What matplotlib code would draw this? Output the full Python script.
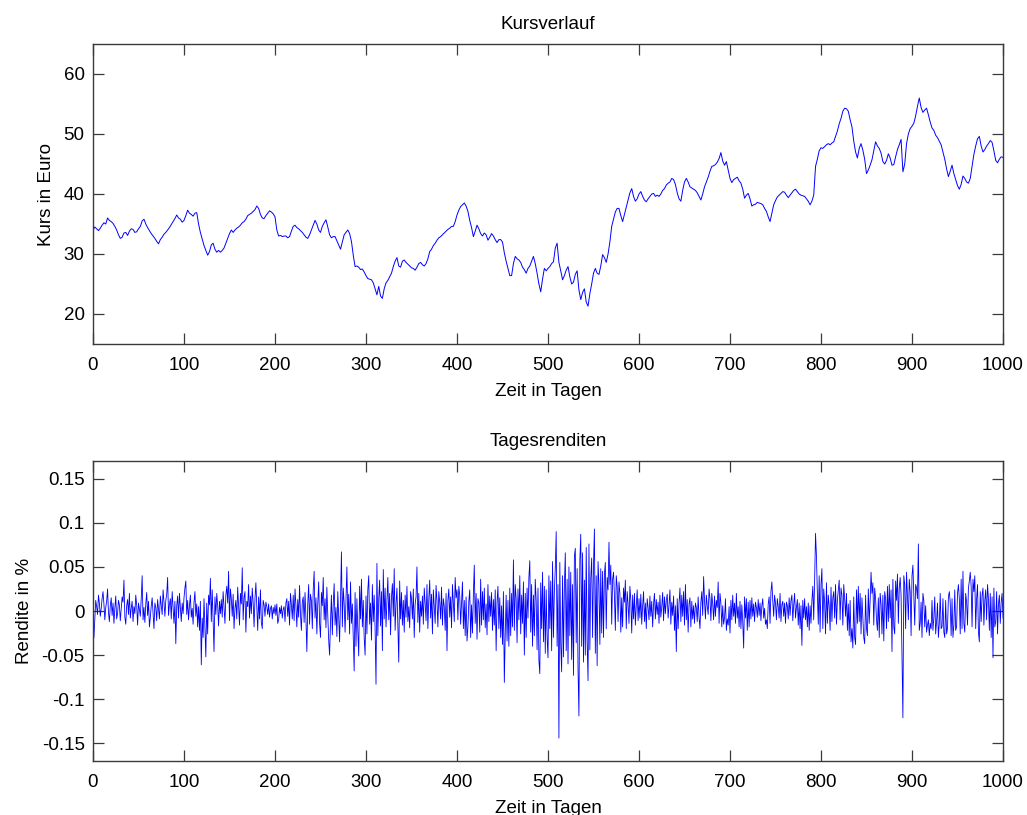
import numpy as np
import matplotlib
matplotlib.use("Agg")
import matplotlib.pyplot as plt
from matplotlib.ticker import FuncFormatter

plt.rcParams["font.family"] = ["Liberation Sans", "DejaVu Sans"]
plt.rcParams["axes.unicode_minus"] = False

# Schlusskurse in Euro, alle 2 Handelstage (Tag 0 ... 1000)
kurs = [
    34.0, 34.5, 34.2, 33.9, 34.3, 34.8, 35.2, 35.0, 36.0, 35.6, 35.4, 35.1, 34.6, 34.0, 33.2, 32.6, 32.8, 33.5, 33.6, 33.1,
    33.8, 34.2, 34.1, 33.6, 33.7, 34.2, 34.6, 35.5, 35.8, 35.0, 34.4, 33.9, 33.4, 33.0, 32.6, 32.1, 31.7, 32.4, 32.8, 33.3,
    33.6, 34.0, 34.4, 34.9, 35.4, 35.9, 36.5, 36.0, 35.8, 35.3, 35.6, 36.4, 37.3, 36.8, 36.6, 36.3, 36.8, 36.9, 35.0, 33.6,
    32.5, 31.4, 30.6, 29.8, 30.4, 31.5, 31.8, 30.8, 30.3, 30.6, 30.3, 30.6, 31.0, 31.8, 32.6, 33.4, 34.0, 33.6, 34.0, 34.3,
    34.5, 34.8, 35.2, 35.4, 35.8, 36.4, 36.6, 36.8, 37.1, 37.4, 38.0, 37.6, 36.6, 36.0, 35.9, 36.4, 36.8, 37.2, 37.0, 36.7,
    36.2, 34.0, 33.0, 33.1, 32.9, 33.0, 33.0, 32.7, 32.9, 33.8, 34.6, 34.8, 34.4, 34.2, 33.9, 33.6, 33.2, 32.8, 32.6, 33.2,
    34.0, 34.8, 35.6, 35.0, 34.0, 33.6, 34.6, 35.2, 35.7, 34.5, 33.2, 32.7, 32.9, 32.9, 32.2, 31.5, 30.8, 32.0, 33.2, 33.6,
    34.0, 33.4, 32.1, 29.8, 27.9, 28.0, 27.8, 27.4, 27.5, 27.0, 26.4, 25.9, 25.8, 25.7, 25.2, 24.2, 23.2, 24.6, 23.0, 22.6,
    24.2, 25.2, 25.6, 26.2, 26.8, 27.9, 28.8, 29.4, 28.0, 27.8, 28.8, 29.0, 28.6, 28.3, 28.0, 27.7, 27.6, 27.3, 27.8, 28.4,
    28.6, 28.2, 28.0, 28.4, 29.2, 30.4, 30.8, 31.4, 31.8, 32.3, 32.7, 32.9, 33.2, 33.5, 33.8, 34.1, 34.3, 34.6, 34.6, 35.4,
    36.5, 37.3, 37.9, 38.2, 38.5, 38.0, 37.1, 35.6, 34.4, 32.9, 33.8, 34.8, 34.2, 33.4, 33.0, 33.5, 33.2, 32.3, 32.8, 33.4,
    33.0, 32.4, 31.9, 32.4, 32.4, 32.0, 30.2, 28.8, 27.6, 26.4, 26.4, 28.4, 29.6, 29.2, 29.0, 28.6, 27.8, 27.4, 26.8, 27.6,
    28.0, 28.8, 29.6, 28.4, 26.8, 25.0, 23.7, 25.8, 27.6, 27.2, 27.6, 27.9, 28.4, 28.7, 31.0, 31.8, 28.6, 27.2, 25.7, 26.4,
    27.3, 27.9, 26.2, 25.0, 25.3, 26.6, 27.2, 24.0, 22.4, 23.6, 24.2, 22.0, 21.3, 23.4, 25.0, 26.8, 27.6, 26.8, 26.6, 28.0,
    29.9, 29.4, 28.6, 30.0, 32.0, 34.6, 35.8, 37.0, 37.6, 37.6, 36.4, 35.4, 36.6, 37.8, 39.0, 40.2, 40.9, 39.6, 38.8, 39.2,
    40.0, 40.4, 39.6, 39.0, 38.7, 39.2, 39.6, 40.0, 40.1, 39.6, 39.8, 39.6, 40.0, 40.6, 40.9, 41.5, 41.8, 42.0, 42.6, 42.4,
    41.6, 40.2, 39.2, 38.8, 40.6, 42.0, 42.6, 42.0, 41.2, 41.0, 40.8, 40.6, 40.2, 39.6, 39.0, 40.0, 41.2, 42.0, 42.8, 43.8,
    44.6, 44.7, 44.9, 45.3, 45.9, 46.9, 45.5, 44.8, 45.4, 44.0, 42.6, 41.9, 42.4, 42.6, 42.8, 42.2, 41.8, 40.8, 39.3, 39.8,
    40.1, 39.2, 38.0, 38.2, 38.3, 38.6, 38.5, 38.4, 38.2, 37.6, 37.1, 36.2, 35.4, 36.8, 38.2, 38.9, 39.5, 39.8, 40.1, 40.4,
    40.3, 39.8, 39.4, 39.8, 40.2, 40.6, 40.8, 40.4, 40.0, 39.8, 39.7, 39.6, 39.2, 38.8, 38.2, 38.8, 39.8, 44.6, 45.8, 47.2,
    47.7, 47.6, 47.9, 48.2, 48.4, 48.2, 48.5, 48.7, 49.6, 50.5, 51.7, 52.6, 53.8, 54.3, 54.2, 53.8, 52.4, 51.2, 48.8, 47.0,
    46.0, 47.6, 48.4, 47.3, 45.8, 43.4, 44.0, 44.8, 45.7, 47.2, 48.7, 48.0, 47.6, 46.8, 45.4, 45.0, 45.6, 46.7, 46.0, 44.8,
    44.9, 46.2, 47.4, 48.2, 49.1, 43.7, 45.0, 48.4, 50.0, 50.9, 51.3, 51.8, 53.0, 54.6, 56.0, 54.4, 53.6, 54.0, 54.3, 53.2,
    52.0, 51.0, 50.6, 49.8, 49.4, 48.8, 48.2, 47.0, 45.8, 44.2, 42.9, 43.8, 44.8, 43.4, 42.4, 41.4, 40.8, 41.6, 43.0, 42.6,
    42.0, 41.8, 42.6, 44.6, 46.6, 48.0, 49.2, 49.6, 48.0, 47.0, 47.4, 48.0, 48.4, 48.9, 48.6, 47.2, 45.6, 45.2, 45.8, 46.2,
    46.1,
]
kurs_schritt = 2

# Tagesrenditen in Promille, Tag 1 ... 1000
rendite_promille = [
    -30, -8, 12, 5, -4, 18, 9, -6, 3, 14, 22, 8, -10, 4, 11, 25, -2, -12, 6, 15,
    -5, 9, -14, 3, 17, -9, -3, 12, 7, -11, 2, 16, 10, 35, -7, -15, 6, 13, -4, 20,
    -8, 3, 11, -12, 5, -3, 18, 7, -16, 9, 2, -6, 14, 40, -10, 4, -13, 8, 21, -5,
    11, -18, -7, 6, 15, -3, -20, 9, 4, -11, 13, 2, -9, 17, 6, -4, 24, 10, -6, 12,
    19, 38, -5, 8, 14, -9, 22, 3, -14, 11, -37, 6, 17, -8, 20, 4, -12, 9, -3, 15,
    26, 34, -4, 12, -10, 6, 18, -7, 3, -15, 10, 22, -6, 8, -18, 5, -22, 11, -61, -8,
    -30, 14, -20, -52, 9, -26, 18, 7, 37, -12, 24, -9, -46, 16, -4, 20, 6, -17, 11, -3,
    13, -7, 22, 4, -14, 18, 28, 9, 45, -11, 25, 14, -6, 19, -20, 3, 12, -9, 27, 6,
    -16, 20, 8, 49, -10, 15, 22, -24, 11, 5, 30, -8, 17, -3, 26, 9, -18, 14, 32, 4,
    -22, 16, -9, 24, -13, -20, 12, 7, -6, 10, 5, -4, 8, -7, 3, 6, -9, 4, -3, 7,
    -5, 8, -14, -10, 4, -3, 6, -8, 2, 5, -12, 9, 14, -6, 11, -16, 20, 7, -9, 18,
    -11, 25, 6, -18, 13, -7, 29, -4, -22, 10, 16, -13, 21, -9, -46, 8, 30, -15, 19, 12,
    -20, 24, 45, -8, 15, -26, 9, 33, -14, -30, 21, 6, 38, -10, 14, -19, 27, -5, -33, -50,
    -12, 18, -27, 8, 31, -16, 4, -29, 22, -8, -35, 12, 67, -18, 26, 9, -24, 15, 50, -10,
    19, -26, 33, -14, 8, -32, -68, 21, -40, 14, -22, -51, 28, -9, 36, -18, 12, -30, -50, 17,
    -26, 24, 40, -15, 9, -33, 30, -12, 18, -20, -83, 54, -28, 14, 35, -17, 22, -45, 47, -9,
    26, -18, 12, 38, -10, 20, -27, 16, 31, -6, 48, -22, 9, 26, -14, -58, 34, -9, 21, -16,
    12, -24, 18, -7, 28, -12, 5, -19, 22, 14, -9, 25, -30, 8, 16, 50, -13, 20, -24, 11,
    -6, 17, -15, 26, 9, -11, 30, -20, 13, 35, -8, 19, -26, 24, 6, -14, 29, 11, -18, 22,
    10, -9, 27, -16, 14, 5, -22, 20, -45, 12, 25, -7, 16, -19, 30, 8, -12, 38, 15, 24,
    -10, 28, 18, -15, 9, 33, -20, 12, -28, 16, -34, -18, 11, 24, -30, 7, -25, 19, 52, -14,
    20, -32, 14, 9, -24, 36, -16, 22, -10, 26, -19, 8, -27, 30, -12, 17, -6, 21, -22, 13,
    -16, 24, -45, 10, 28, -20, 15, -30, 6, -38, 22, -81, -26, 18, -34, 12, -40, 26, -28, 20,
    -18, 58, -22, 30, 14, -36, 25, -10, 40, -26, 18, -14, 33, -50, 20, -30, 26, -8, 38, 57,
    -24, 30, -40, 18, -28, 36, 12, -44, 26, -56, -71, 32, -20, 44, -35, 28, -48, 24, -30, -53,
    40, -20, 34, -45, 56, -30, 22, 48, 90, -40, 30, -144, 55, -38, -69, 40, -52, 28, 66, -45,
    36, -60, 50, -28, 44, -55, 30, -73, 62, 71, -36, 48, -66, -119, 58, 87, -40, 66, -58, 35,
    -50, 72, -35, -79, 76, -44, 38, 60, -30, 52, 93, -48, 40, -62, 56, 30, -38, 48, -25, 45,
    -30, 42, 55, -20, 38, 24, 78, 30, 52, -15, 36, 44, 18, -22, 40, 28, -12, 33, 20, -24,
    15, -18, 26, 10, 35, -20, 22, 8, -14, 28, 12, -25, 18, -9, 20, -16, 6, 24, -11, 14,
    -8, 19, -15, 6, 22, -12, 9, -20, 14, 4, -10, 17, -6, 11, -18, 8, 20, -9, 13, -4,
    10, -14, 18, -7, 5, 21, -11, 16, -3, 12, 19, -8, 7, 24, -15, 10, -5, 17, -22, 6,
    -46, 14, -20, 9, 26, -12, 18, -6, 22, -16, 30, -10, 13, -24, 8, 15, -18, 11, -9, 6,
    -14, 9, 4, -12, 16, -7, -20, 10, 22, -5, 39, 12, -9, 18, 6, -4, 25, 14, -11, 20,
    8, -10, 17, -6, 12, 4, 33, -14, 20, 9, -18, 6, -15, -8, 14, -22, -9, -16, 5, -25,
    12, -10, 18, -6, 9, -14, 20, -8, 5, -18, 11, -20, 7, -12, -42, 16, -8, 14, -22, 10,
    -18, 12, -9, 15, -6, 8, -12, 10, 4, -7, 13, -5, 9, -11, 6, 14, -8, 3, -15, -10,
    -20, 8, 16, -14, 22, 33, 12, -6, 18, 9, -10, 14, 5, -8, 20, -12, 7, 11, -6, 9,
    -14, 10, 6, -9, 15, -5, 12, 18, -11, 7, 20, -8, 4, 13, -16, 9, -20, 6, -39, 12,
    -8, 14, -10, 5, -18, 9, -22, 6, -14, 12, 28, -10, 35, 88, 62, 20, -15, 40, -24, 30,
    48, -20, 25, 10, -26, 32, -14, 18, 6, -22, 27, -12, 15, 22, -8, 30, -15, 12, 24, 35,
    -10, 26, 18, -16, 30, 14, -6, 20, -22, 8, -28, 12, -35, -20, -42, 16, -30, -38, 24, -14,
    28, -12, 20, -26, 15, -8, -30, -37, 18, -20, -28, 25, -14, 12, 44, 20, 32, -16, 26, 14,
    -10, -22, 15, -30, 20, 8, -26, 18, -34, 22, 14, -20, 28, -12, 30, -8, 24, -46, 36, -18,
    -26, 34, 12, 42, -14, 26, 38, 18, -55, -121, 40, 30, -20, 44, 16, -10, 36, 22, -28, 40,
    52, 18, -16, 30, 26, 14, 76, -22, -14, 10, -30, 20, 12, -18, 6, -24, -16, -10, -28, -14,
    -20, 12, -22, -8, 16, -26, -12, 9, -30, -14, 20, -20, -18, 14, -24, -30, 12, -26, -20, 16,
    22, 10, -28, 14, -30, -16, 24, -22, -18, 20, 30, 14, -26, 36, -20, 45, -14, -24, 20, 10,
    -16, 26, 34, 44, 28, -18, 36, 22, 40, -20, 14, 30, -24, -35, 22, -12, 18, 26, -16, 12,
    24, -10, 30, 14, -22, 20, -30, 16, -53, 26, -18, -12, 22, -26, 8, 18, -14, 10, 20, -8,
]

kurs_ticks = [20, 30, 40, 50, 60]
rendite_ticks = [-0.15, -0.1, -0.05, 0, 0.05, 0.1, 0.15]
tage_ticks = list(range(0, 1001, 100))

tage_kurs = np.arange(len(kurs)) * kurs_schritt
rendite = np.array(rendite_promille) / 1000.0
tage_rendite = np.arange(1, len(rendite) + 1)

W, H = 1027, 815
fig = plt.figure(figsize=(W / 100, H / 100), dpi=100)
ax1 = fig.add_axes([93 / W, 1 - 344 / H, 910 / W, 300 / H])
ax2 = fig.add_axes([93 / W, 1 - 761 / H, 910 / W, 300 / H])

FS = 13.5
achsfarbe = "#3a3a3a"


def matlab_stil(ax):
    for s in ax.spines.values():
        s.set_color(achsfarbe)
        s.set_linewidth(1.0)
    ax.tick_params(direction="in", top=True, right=True, length=8, width=0.9,
                   color=achsfarbe, labelsize=FS, labelcolor="black")
    ax.tick_params(axis="x", pad=9.5)
    ax.tick_params(axis="y", pad=6)
    ax.set_xlim(0, 1000)
    ax.set_xticks(tage_ticks)
    ax.set_xlabel("Zeit in Tagen", fontsize=FS, labelpad=6)


ax1.plot(tage_kurs, kurs, color="#0000ff", linewidth=0.7)
matlab_stil(ax1)
ax1.set_ylim(15, 65)
ax1.set_yticks(kurs_ticks)
ax1.set_ylabel("Kurs in Euro", fontsize=FS, labelpad=6)
ax1.set_title("Kursverlauf", fontsize=FS, pad=11)

ax2.plot(tage_rendite, rendite, color="#0000ff", linewidth=0.6)
matlab_stil(ax2)
ax2.set_ylim(-0.17, 0.17)
ax2.set_yticks(rendite_ticks)
ax2.yaxis.set_major_formatter(FuncFormatter(lambda v, p: f"{v:g}"))
ax2.set_ylabel("Rendite in %", fontsize=FS, labelpad=6)
ax2.set_title("Tagesrenditen", fontsize=FS, pad=11)

fig.savefig("out.png", dpi=100)
